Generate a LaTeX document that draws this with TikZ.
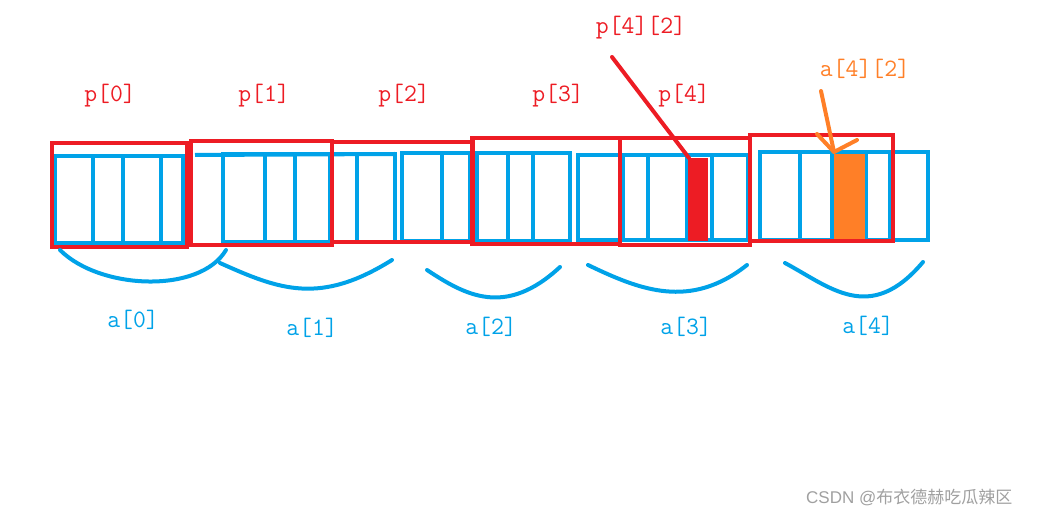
\documentclass[tikz,border=0pt]{standalone}
\usepackage{fontspec}
\newfontfamily\wmfont{Liberation Sans}
\newfontfamily\cjk{Noto Sans CJK SC}
\definecolor{pblue}{RGB}{0,162,232}
\definecolor{pred}{RGB}{237,28,36}
\definecolor{porange}{RGB}{255,127,39}
\definecolor{wm}{RGB}{160,160,160}
\begin{document}
\begin{tikzpicture}[x=1pt,y=-1pt,
  cell/.style={draw=pblue,line width=4pt},
  cellline/.style={pblue,line width=4pt},
  pbox/.style={draw=pred,line width=4.5pt},
  brace/.style={pblue,line width=4pt,line cap=round},
  lbl/.style={font=\ttfamily\fontsize{25}{25}\selectfont,inner sep=0pt},
  alabel/.style={lbl,text=pblue},
  plabel/.style={lbl,text=pred},
  olabel/.style={lbl,text=porange}]
\useasboundingbox (0,0) rectangle (1047,518);
% ---- blue cells ----
\draw[cell] (55,156) rectangle (183,243);
\foreach \x in {93,123,161} \draw[cellline] (\x,156) -- (\x,243);
\draw[cellline] (195,155) -- (395,154);
\draw[cell] (223,154) rectangle (395,242);
\foreach \x in {265,295,330,357} \draw[cellline] (\x,154) -- (\x,242);
\draw[cell] (402,153) rectangle (470,241);
\draw[cellline] (442,153) -- (442,241);
\draw[cell] (477,153) rectangle (570,241);
\foreach \x in {508,533} \draw[cellline] (\x,153) -- (\x,241);
\draw[cell] (578,155) rectangle (748,240);
\foreach \x in {623,648,687,712} \draw[cellline] (\x,155) -- (\x,240);
\draw[cell] (760,152) rectangle (928,240);
\foreach \x in {800,832,866,890} \draw[cellline] (\x,152) -- (\x,240);
% ---- filled elements ----
\fill[pred] (688,158) rectangle (708,241);
\fill[porange] (834,154) rectangle (865,239);
% ---- red boxes ----
\node[pbox,minimum width=135pt,minimum height=104pt,inner sep=0pt] (p0) at (119.5,195) {};
\node[pbox,minimum width=141pt,minimum height=104pt,inner sep=0pt] (p1) at (261.5,193) {};
\node[pbox,minimum width=141pt,minimum height=100pt,inner sep=0pt] (p2) at (402.5,192) {};
\node[pbox,minimum width=148pt,minimum height=106pt,inner sep=0pt] (p3) at (546,191) {};
\node[pbox,minimum width=130pt,minimum height=107pt,inner sep=0pt] (p4) at (685,191.5) {};
\node[pbox,minimum width=143pt,minimum height=106pt,inner sep=0pt] (p5) at (821.5,188) {};
% ---- braces ----
\draw[brace] (60,250) .. controls (100,290) and (200,294) .. (226,250);
\draw[brace] (220,263) .. controls (280,290) and (320,305) .. (392,260);
\draw[brace] (427,270) .. controls (465,295) and (505,318) .. (560,267);
\draw[brace] (588,265) .. controls (640,290) and (690,310) .. (747,265);
\draw[brace] (785,263) .. controls (830,287) and (870,325) .. (923,262);
% ---- labels ----
\node[alabel] (la0) at (133,320) {a[0]};
\node[alabel] (la1) at (312,328) {a[1]};
\node[alabel] (la2) at (491,327) {a[2]};
\node[alabel] (la3) at (686,327) {a[3]};
\node[alabel] (la4) at (868,326) {a[4]};
\node[plabel] (lp0) at (110,96) {p[0]};
\node[plabel] (lp1) at (264,96) {p[1]};
\node[plabel] (lp2) at (404,96) {p[2]};
\node[plabel] (lp3) at (558,96) {p[3]};
\node[plabel] (lp4) at (684,96) {p[4]};
\node[plabel] (lp42) at (641,28) {p[4][2]};
\node[olabel] (la42) at (865,69) {a[4][2]};
% ---- pointers ----
\coordinate (rs) at (612,57);
\coordinate (rt) at (689,158);
\draw[pred,line width=4pt,line cap=round] (rs) -- (rt);
\coordinate (os) at (821,91);
\coordinate (ot) at (834,152);
\coordinate (ol) at (817,134);
\coordinate (or) at (857,140);
\draw[porange,line width=4pt,line cap=round] (os) -- (ot);
\draw[porange,line width=4pt,line cap=round,line join=round] (ol) -- (ot) -- (or);
% ---- watermark ----
\node[text=wm,anchor=west,inner sep=0pt] (wmk) at (806,497) {\wmfont\fontsize{17}{17}\selectfont CSDN @\cjk 布衣德赫吃瓜辣区};
\end{tikzpicture}
\end{document}
